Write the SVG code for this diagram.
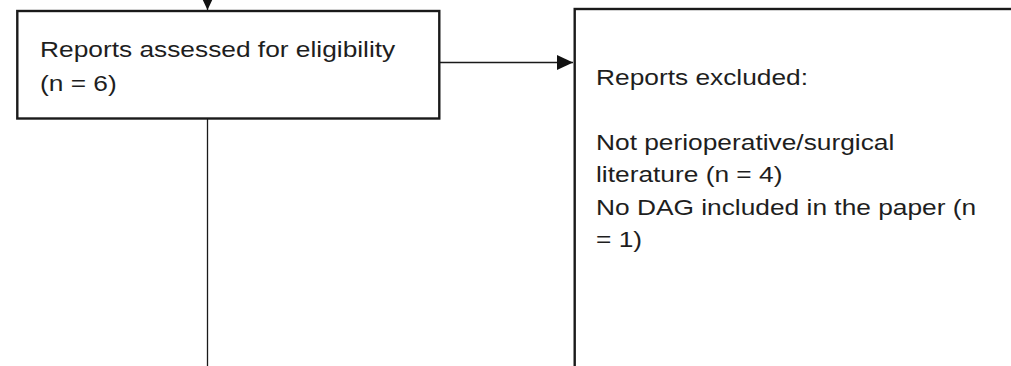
<svg xmlns="http://www.w3.org/2000/svg" width="1011" height="366" viewBox="0 0 1011 366">
<defs>
<style>
.box{fill:#fff;stroke:#1a1a1a;stroke-width:2.4}
.lbl{font-family:"Liberation Sans",Arial,sans-serif;font-size:22.5px;fill:#1e1e1e}
.conn{stroke:#1a1a1a;stroke-width:1.3;fill:none}
</style>
<marker id="arr" markerWidth="16" markerHeight="15" refX="16" refY="7.5" orient="auto" markerUnits="userSpaceOnUse">
<path d="M0,0 L16,7.5 L0,15 Z" fill="#111"/>
</marker>
</defs>
<rect width="1011" height="366" fill="#fff"/>
<g id="connectors">
<line class="conn" x1="207.5" y1="-20" x2="207.5" y2="10" marker-end="url(#arr)"/>
<line class="conn" x1="439" y1="62.5" x2="573" y2="62.5" marker-end="url(#arr)"/>
<line class="conn" x1="207.5" y1="118.5" x2="207.5" y2="366"/>
</g>
<g id="node-assessed">
<rect class="box" x="17.3" y="11" width="422" height="107.5"/>
<g transform="translate(40 0) scale(1.17 1)">
<text class="lbl" x="0" y="57">Reports assessed for eligibility</text>
<text class="lbl" x="0" y="91.5">(n = 6)</text>
</g>
</g>
<g id="node-excluded">
<rect class="box" x="574.7" y="9" width="480" height="400"/>
<g transform="translate(596 0) scale(1.17 1)">
<text class="lbl" x="0" y="85">Reports excluded:</text>
<text class="lbl" x="0" y="150">Not perioperative/surgical</text>
<text class="lbl" x="0" y="182.5">literature (n = 4)</text>
<text class="lbl" x="0" y="215">No DAG included in the paper (n</text>
<text class="lbl" x="0" y="247.5">= 1)</text>
</g>
</g>
</svg>
